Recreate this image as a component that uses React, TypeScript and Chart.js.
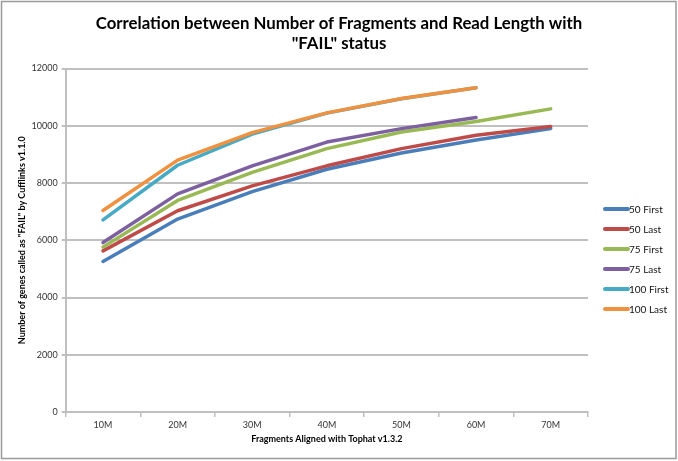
import { useEffect, useRef } from "react";
import { Chart, registerables } from "chart.js";

Chart.register(...registerables);

const FONT = "Lato, 'Noto Sans', sans-serif";

const categories = ["10M", "20M", "30M", "40M", "50M", "60M", "70M"];
const yTicks = [0, 2000, 4000, 6000, 8000, 10000, 12000];

const fifty_first = [5260, 6740, 7700, 8480, 9050, 9500, 9900];
const fifty_last = [5630, 7030, 7900, 8600, 9200, 9670, 9970];
const seventyfive_first = [5760, 7390, 8370, 9200, 9780, 10150, 10590];
const seventyfive_last = [5920, 7620, 8600, 9430, 9900, 10290];
const hundred_first = [6710, 8620, 9710, 10440, 10945, 11325];
const hundred_last = [7040, 8800, 9760, 10450, 10950, 11330];

const seriesNames = ["50 First", "50 Last", "75 First", "75 Last", "100 First", "100 Last"];
const seriesValues = [fifty_first, fifty_last, seventyfive_first, seventyfive_last, hundred_first, hundred_last];
const seriesColors = ["#4A7EBB", "#BE4B48", "#98B954", "#7D60A0", "#46AAC5", "#F0913F"];

const titleLines = ['Correlation between Number of Fragments and Read Length with', '"FAIL" status'];
const xTitle = "Fragments Aligned with Tophat v1.3.2";
const yTitle = 'Number of genes called as "FAIL" by Cufflinks v1.1.0';

const framePlugin = {
  id: "frame",
  beforeDraw(chart: any) {
    const ctx = chart.ctx;
    ctx.save();
    ctx.fillStyle = "#ffffff";
    ctx.fillRect(0, 0, chart.width, chart.height);
    ctx.restore();
  },
  afterDraw(chart: any) {
    const ctx = chart.ctx;
    ctx.save();
    ctx.strokeStyle = "#9a9a9a";
    ctx.lineWidth = 1.5;
    ctx.strokeRect(1.5, 1.5, chart.width - 3.5, chart.height - 4);
    // legend
    const area = chart.chartArea;
    const x0 = area.right + 17;
    const lineLen = 23;
    const startY = 209;
    const step = 20;
    ctx.font = `10px ${FONT}`;
    ctx.textBaseline = "middle";
    ctx.textAlign = "left";
    chart.data.datasets.forEach((ds: any, i: number) => {
      const y = startY + i * step;
      ctx.strokeStyle = ds.borderColor;
      ctx.lineWidth = 4;
      ctx.lineCap = "round";
      ctx.beginPath();
      ctx.moveTo(x0, y);
      ctx.lineTo(x0 + lineLen, y);
      ctx.stroke();
      ctx.fillStyle = "#111";
      ctx.fillText(ds.label, x0 + lineLen + 1, y + 0.5);
    });
    ctx.restore();
  },
};

export default function App() {
  const ref = useRef<HTMLCanvasElement>(null);
  useEffect(() => {
    document.body.style.margin = "0";
    const canvas = ref.current!;
    const n = seriesNames.length;
    const chart = new Chart(canvas, {
      type: "line",
      data: {
        labels: categories,
        datasets: seriesNames.map((name, i) => ({
          label: name,
          data: seriesValues[i],
          borderColor: seriesColors[i],
          backgroundColor: seriesColors[i],
          borderWidth: 3.5,
          pointRadius: 0,
          pointHoverRadius: 0,
          tension: 0,
          fill: false,
          borderCapStyle: "round",
          borderJoinStyle: "round",
          order: n - i,
          yAxisID: "y",
        })),
      },
      options: {
        responsive: false,
        animation: false,
        devicePixelRatio: 1,
        layout: { padding: { left: 0, right: 0, top: 0, bottom: 0 } },
        plugins: {
          legend: { display: false },
          tooltip: { enabled: false },
          title: {
            display: true,
            text: titleLines,
            color: "#000",
            font: { family: FONT, size: 16.8, weight: "bold", lineHeight: "20px" },
            padding: { top: 14, bottom: 14.5 },
          },
        },
        scales: {
          x: {
            type: "category",
            offset: true,
            grid: {
              offset: true,
              drawOnChartArea: false,
              drawTicks: true,
              tickLength: 5,
              color: "#bfbfbf",
              lineWidth: 1.5,
            },
            border: { color: "#bfbfbf", width: 2 },
            ticks: { font: { family: FONT, size: 9 }, color: "#333", padding: 3, maxRotation: 0, autoSkip: false },
            title: {
              display: true,
              text: xTitle,
              color: "#000",
              font: { family: FONT, size: 9, weight: "bold" },
              padding: { top: 3, bottom: 16.6 },
            },
            afterFit: (s: any) => {
              s.height = 49;
            },
          },
          y: {
            min: 0,
            max: 12000,
            afterBuildTicks: (s: any) => {
              s.ticks = yTicks.map((v) => ({ value: v }));
            },
            grid: { color: "#c0c0c0", lineWidth: 2, tickLength: 4 },
            border: { color: "#bfbfbf", width: 2 },
            ticks: {
              font: { family: FONT, size: 9 },
              color: "#333",
              padding: 4,
              callback: (v: any) => String(v),
            },
            title: {
              display: true,
              text: yTitle,
              color: "#000",
              font: { family: FONT, size: 9, weight: "bold" },
              padding: { top: 16.6, bottom: 0 },
            },
            afterFit: (s: any) => {
              s.width = 65.7;
            },
          },
          legendSpace: {
            type: "linear",
            position: "right",
            display: true,
            grid: { display: false, drawTicks: false },
            border: { display: false },
            ticks: { display: false },
            afterFit: (s: any) => {
              s.width = 90;
            },
          },
        },
      },
      plugins: [framePlugin],
    });
    return () => chart.destroy();
  }, []);
  return (
    <div style={{ width: 678, height: 461 }}>
      <canvas ref={ref} width={678} height={461} />
    </div>
  );
}
